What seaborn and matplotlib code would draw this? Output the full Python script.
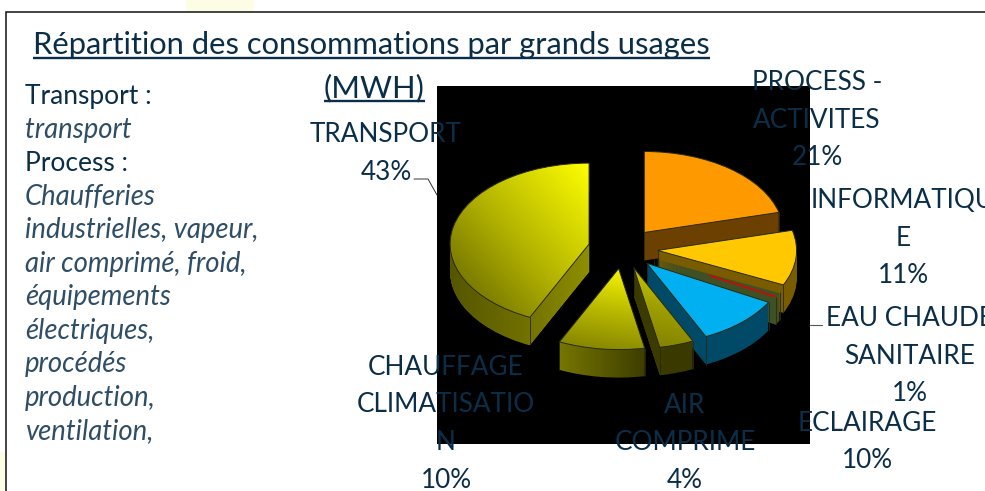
import numpy as np
import matplotlib
matplotlib.use("Agg")
import matplotlib.pyplot as plt
from matplotlib.colors import LinearSegmentedColormap
from matplotlib.patches import PathPatch, Rectangle
from matplotlib.path import Path
import seaborn as sns

# ---- data -------------------------------------------------------------
categories = ["PROCESS - ACTIVITES", "INFORMATIQUE", "EAU CHAUDE SANITAIRE",
              "ECLAIRAGE", "AIR COMPRIME", "CHAUFFAGE CLIMATISATION", "TRANSPORT"]
shares = [21, 11, 1, 10, 4, 10, 43]
title_lines = ["Répartition des consommations par grands usages", "(MWH)"]
side_lines = [("Transport :", False), ("transport", True), ("Process :", False),
              ("Chaufferies", True), ("industrielles, vapeur,", True),
              ("air comprimé, froid,", True), ("équipements", True),
              ("électriques,", True), ("procédés", True), ("production,", True),
              ("ventilation,", True)]
# label lines: (x centre px, first baseline px, lines)
labels = [(386, 142, ["TRANSPORT", "43%"]),
          (817, 90, ["PROCESS -", "ACTIVITES", "21%"]),
          (903, 208, ["INFORMATIQU", "E", "11%"]),
          (910, 326, ["EAU CHAUDE", "SANITAIRE", "1%"]),
          (867, 431, ["ECLAIRAGE", "10%"]),
          (446, 375, ["CHAUFFAGE", "CLIMATISATIO", "N", "10%"]),
          (685, 413, ["AIR", "COMPRIME", "4%"])]

top_colors = ["#ff9900", "#ffc800", "#ff0000", "#00b0f0", None, None, None]
wall_colors = ["#6b4000", "#7a5c00", "#3f5024", "#004a68", None, None, None]
top_ramps = {4: ["#7f7f00", "#a0a000", "#d8d800"],
             5: ["#7f7f00", "#b8b800", "#fafa00"],
             6: ["#5e5e00", "#b4b400", "#ffff00"]}
wall_ramps = {4: ["#3c3c00", "#3a3a00"],
              5: ["#767600", "#3e3e00"],
              6: ["#565600", "#6e6e00", "#8e8e00"]}
paint_rank = [1, 2, 3, 4, 5, 6, 1]

TEXT = "#0b2e48"
ITALIC = "#2f4e66"
W, H = 985, 491

sns.set_theme(style="white")
plt.rcParams["font.family"] = ["Lato", "Open Sans", "DejaVu Sans"]

fig = plt.figure(figsize=(W / 100, H / 100), dpi=100, facecolor="white")

# ---- pie panel (black box) --------------------------------------------
L, R, T, B = 437, 810, 86, 444
ax = fig.add_axes([L / W, 1 - B / H, (R - L) / W, (B - T) / H], facecolor="black")
CX, CY, RX, RY, DEPTH = 623, 248.5, 139, 81, 28
explode = [0.25] * len(shares)


def ramp(cols):
    return LinearSegmentedColormap.from_list("r", sns.color_palette(cols, as_cmap=False))


def fill_gradient(path, cols, z, wx, wy):
    box = path.get_extents()
    u, v = np.meshgrid(np.linspace(0, 1, 120), np.linspace(1, 0, 120))
    grad = wx * u + wy * v
    im = ax.imshow(grad, extent=(box.x0, box.x1, box.y0, box.y1), aspect="auto",
                   cmap=ramp(cols), vmin=0, vmax=1, zorder=z, interpolation="bilinear")
    clip = PathPatch(path, transform=ax.transData, facecolor="none", edgecolor="none")
    ax.add_patch(clip)
    im.set_clip_path(clip)


wall_paths = {i: [] for i in wall_ramps}
tops = None
for k in range(DEPTH, -1, -1):
    wedges, _ = ax.pie(shares, explode=explode, startangle=90, counterclock=False,
                       radius=1, center=(0, -k / RY),
                       colors=[c or "none" for c in (top_colors if k == 0 else wall_colors)],
                       wedgeprops={"linewidth": 0})
    for i, w in enumerate(wedges):
        w.set_zorder(paint_rank[i] + (0.5 if k == 0 else 0.1))
        if k > 0 and i in wall_paths:
            wall_paths[i].append(w.get_path())
    if k == 0:
        tops = wedges

for i, paths in wall_paths.items():
    fill_gradient(Path.make_compound_path(*paths), wall_ramps[i], paint_rank[i] + 0.2, 1, 0)

start = 0.0
for i, w in enumerate(tops):
    if i in top_ramps:
        wx, wy = (0.5, 0.5) if i == 6 else (0.15, 0.85)
        fill_gradient(w.get_path(), top_ramps[i], paint_rank[i] + 0.5, wx, wy)
    w.set_facecolor(top_colors[i] or "none")
    w.set_edgecolor("#2a2a10")
    w.set_linewidth(0.7)
    w.set_zorder(paint_rank[i] + 0.6)
    end = start + shares[i]
    mid = np.radians((start + end) / 2 * 3.6)
    ox, oy = explode[i] * np.sin(mid), explode[i] * np.cos(mid)
    for frac in (start, end):
        a = np.radians(frac * 3.6)
        x, y = ox + np.sin(a), oy + np.cos(a)
        ax.plot([x, x], [y, y - DEPTH / RY], color="#2a2a10", lw=0.6,
                zorder=paint_rank[i] + 0.3, solid_capstyle="butt")
    ax.plot([ox, ox], [oy, oy - DEPTH / RY], color="#2a2a10", lw=0.6,
            zorder=paint_rank[i] + 0.3, solid_capstyle="butt")
    start = end

# the thin red slice: its top lies under the neighbour's wall, only a sliver shows
red = 2
tops[red].set_zorder(1.5)
tops[red].set_edgecolor("none")
a = np.radians(sum(shares[:red + 1]) * 3.6)
mid = np.radians((sum(shares[:red]) + sum(shares[:red + 1])) / 2 * 3.6)
ox, oy = explode[red] * np.sin(mid), explode[red] * np.cos(mid)
ax.plot([ox + 0.45 * np.sin(a), ox + np.sin(a)], [oy + 0.45 * np.cos(a), oy + np.cos(a)],
        color="#e00000", lw=1.1, zorder=paint_rank[red] + 0.4, solid_capstyle="butt")

ax.set_aspect("auto")
ax.set_xlim((L - CX) / RX, (R - CX) / RX)
ax.set_ylim((CY - B) / RY, (CY - T) / RY)
ax.set_frame_on(True)
for s in ax.spines.values():
    s.set_visible(False)
ax.patch.set_facecolor("black")
ax.patch.set_visible(True)
ax.set_xticks([])
ax.set_yticks([])

# ---- overlay in pixel units: frame, texts -----------------------------
ov = fig.add_axes([0, 0, 1, 1], facecolor="none", zorder=5)
ov.set_xlim(0, W)
ov.set_ylim(H, 0)
ov.axis("off")

ov.add_patch(Rectangle((186, 0), 68, 12, fc="#fdfde6", ec="none"))
ov.add_patch(Rectangle((0, 452), 6, 39, fc="#fdfde6", ec="none"))
ov.plot([985, 6, 6], [12, 12, 491], color="#111111", lw=1.1, solid_joinstyle="miter")

ov.plot([414, 428, 437], [179, 179, 195], color="#333333", lw=0.7)
ov.plot([810, 822], [325, 325], color="#555555", lw=0.8)

title_size, label_size, side_size, ital_size = 22.2, 18.8, 19.0, 19.8
renderer = fig.canvas.get_renderer()


def underlined(x, y, s, gap):
    t = ov.text(x, y, s, fontsize=title_size, color=TEXT,
                ha="left", va="baseline")
    e = t.get_window_extent(renderer)
    ov.plot([e.x0, e.x1], [y + gap, y + gap], color=TEXT, lw=1.7, solid_capstyle="butt")


underlined(33, 54, title_lines[0], 4)
underlined(324, 97, title_lines[1], 4)

for n, (s, ital) in enumerate(side_lines):
    ov.text(25, 104 + n * 33.55, s, fontsize=ital_size if ital else side_size,
            color=ITALIC if ital else TEXT,
            fontstyle="italic" if ital else "normal",
            ha="left", va="baseline")

for x, y, lines in labels:
    for n, s in enumerate(lines):
        ov.text(x, y + n * 37.5, s, fontsize=label_size, color=TEXT,
                ha="center", va="baseline", clip_on=True)

fig.savefig("out.png", dpi=100)
